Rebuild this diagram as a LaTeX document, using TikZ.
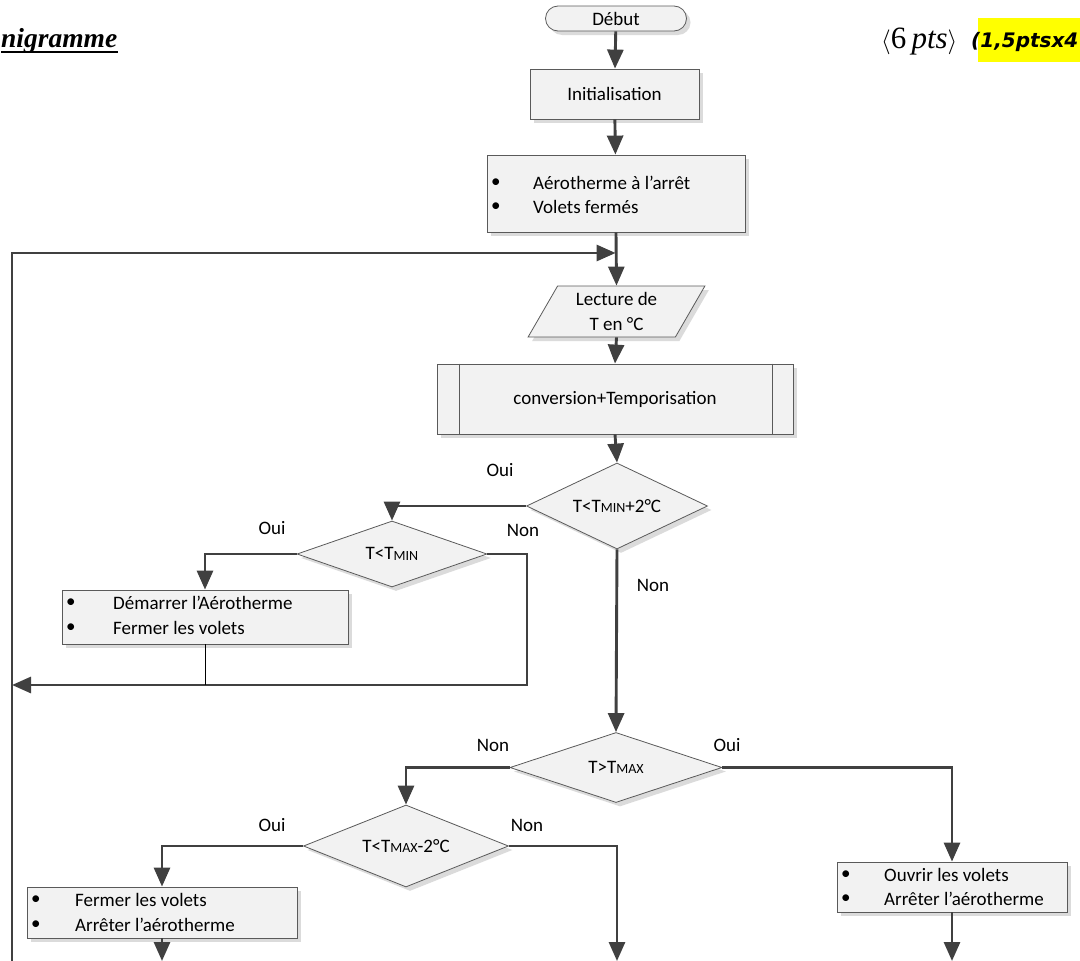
\documentclass[tikz,border=0pt]{standalone}
\usepackage{fontspec}
\setmainfont{Carlito}
\newfontfamily\timesf{Liberation Serif}
\newfontfamily\comicf{DejaVu Sans}
\usetikzlibrary{arrows.meta,shapes.geometric,shadows,calc}
\definecolor{linec}{HTML}{404040}
\definecolor{boxc}{HTML}{5A5A5A}
\definecolor{fillc}{HTML}{F2F2F2}
\definecolor{hl}{HTML}{FFFF00}
\newcommand\sbs[1]{\raisebox{-0.5pt}{\fontsize{14}{14}\selectfont #1}}
\begin{document}
\begin{tikzpicture}[x=1pt,y=-1pt,
  every node/.style={font=\fontsize{19}{23}\selectfont},
  ln/.style={draw=linec, line width=2.9pt},
  arr/.style={ln, -{Triangle[length=19pt,width=16pt]}},
  sh/.style={general shadow={fill=gray!28, shadow xshift=4pt, shadow yshift=-4pt}},
  box/.style={draw=boxc, line width=0.8pt, fill=fillc, sh, rectangle, inner sep=0},
  dia/.style={draw=boxc, line width=0.8pt, fill=fillc, sh, diamond, aspect=2.2, inner sep=0},
  lbl/.style={inner sep=0},
  item/.style={inner sep=0, anchor=west},
]
\useasboundingbox (0,0) rectangle (1080,961);

% heading
\node[anchor=base west, inner sep=0, font=\timesf\bfseries\itshape\fontsize{27.5}{32}\selectfont] (title) at (1,47) {nigramme};
\draw[line width=2.8pt] ([yshift=-5pt]title.base west) -- ([yshift=-5pt]title.base east);
\node[anchor=base west, inner sep=0, font=\timesf\fontsize{31}{34}\selectfont] (pts) at (881,48) {$\langle$6\,\textit{pts}$\rangle$};
\fill[hl] (978,18) rectangle (1080,62);
\node[anchor=base west, inner sep=0, font=\comicf\bfseries\itshape\fontsize{20}{24}\selectfont] (score) at (971,47) {(1,5ptsx4};

% main chain
\node[box, rounded corners=12.5pt, minimum width=141pt, minimum height=25pt] (debut) at (616,18.5) {Début};
\node[box, minimum width=169pt, minimum height=50pt] (init) at (614.5,94) {Initialisation};
\node[box, minimum width=258pt, minimum height=77pt] (b1) at (616,193.5) {};
\node[item] (b1a) at (491,183) {•};
\node[item] (b1t1) at (533,183) {Aérotherme à l’arrêt};
\node[item] (b1b) at (491,207) {•};
\node[item] (b1t2) at (533,207) {Volets fermés};

\node[draw=boxc, line width=0.8pt, fill=fillc, sh, trapezium, trapezium left angle=62, trapezium right angle=118,
      trapezium stretches=true, minimum width=177pt, minimum height=51pt, inner sep=0, align=center] (lec) at (616.5,311.5) {Lecture de\\[2pt]T en °C};

\node[box, minimum width=356pt, minimum height=70pt] (conv) at (615,399) {conversion+Temporisation};
\draw[draw=boxc, line width=0.8pt] ($(conv.north west)+(23,0)$) -- ($(conv.south west)+(23,0)$);
\draw[draw=boxc, line width=0.8pt] ($(conv.north east)+(-21,0)$) -- ($(conv.south east)+(-21,0)$);

\node[dia, minimum width=181pt, minimum height=86pt] (d1) at (617,506) {T<T\sbs{MIN}+2°C};
\node[dia, minimum width=190pt, minimum height=66pt] (d2) at (392,554) {T<T\sbs{MIN}};
\node[box, minimum width=286pt, minimum height=54pt] (b2) at (205,617) {};
\node[item] (b2a) at (66,603) {•};
\node[item] (b2t1) at (113,603) {Démarrer l’Aérotherme};
\node[item] (b2b) at (66,628) {•};
\node[item] (b2t2) at (113,628) {Fermer les volets};

\node[dia, minimum width=212pt, minimum height=70pt] (d3) at (616,767.5) {T>T\sbs{MAX}};
\node[dia, minimum width=205pt, minimum height=82pt] (d4) at (406,846) {T<T\sbs{MAX}-2°C};

\node[box, minimum width=270pt, minimum height=51pt] (b3) at (162,912.5) {};
\node[item] (b3a) at (31,900) {•};
\node[item] (b3t1) at (75,900) {Fermer les volets};
\node[item] (b3b) at (31,925) {•};
\node[item] (b3t2) at (75,925) {Arrêter l’aérotherme};

\node[box, minimum width=230pt, minimum height=50pt] (b4) at (952,887) {};
\node[item] (b4a) at (841,875) {•};
\node[item] (b4t1) at (884,875) {Ouvrir les volets};
\node[item] (b4b) at (841,899) {•};
\node[item] (b4t2) at (884,899) {Arrêter l’aérotherme};

% labels
\node[lbl] (l1) at (500,470) {Oui};
\node[lbl] (l2) at (272,528) {Oui};
\node[lbl] (l3) at (523,530) {Non};
\node[lbl] (l4) at (653,585) {Non};
\node[lbl] (l5) at (493,745) {Non};
\node[lbl] (l6) at (727,745) {Oui};
\node[lbl] (l7) at (272,825) {Oui};
\node[lbl] (l8) at (527,825) {Non};

% coordinates
\coordinate (lpB) at (12,961);
\coordinate (lpT) at (12,253);
\coordinate (lpJ) at (617,253);
\coordinate (r1) at (527,685);
\coordinate (r2) at (12,685);
\coordinate (e3) at (162,961);
\coordinate (e4) at (617,961);
\coordinate (e5) at (952,961);

% connectors
\draw[arr] (debut) -- (init);
\draw[arr] (init) -- (b1);
\draw[arr] (b1.south) -- (lec.north);
\draw[arr, shorten >=1.4pt] (lpB) -- (lpT) -- (lpJ);
\draw[arr] (lec.south) -- (conv.north);
\draw[arr] (conv.south) -- (d1.north);
\draw[arr] (d1.west) -| (d2.north);
\draw[arr] (d2.west) -| (b2.north);
\draw[arr] (d2.east) -| (r1) -- (r2);
\draw[draw=black, line width=0.9pt] (b2.south) -- (b2.south |- r1);
\draw[arr] (d1.south) -- (d3.north);
\draw[arr] (d3.west) -| (d4.north);
\draw[arr] (d3.east) -| (b4.north);
\draw[arr] (d4.west) -| (b3.north);
\draw[arr] (d4.east) -| (e4);
\draw[arr] (b3.south) -- (e3);
\draw[arr] (b4.south) -- (e5);
\end{tikzpicture}
\end{document}
